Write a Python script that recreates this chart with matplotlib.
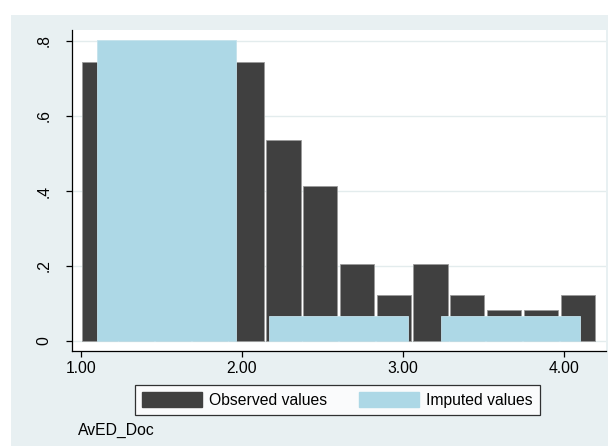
import matplotlib.pyplot as plt
from matplotlib.patches import Rectangle, Patch

plt.rcParams['font.family'] = ['Liberation Sans', 'DejaVu Sans']
plt.rcParams['font.size'] = 11.3

# observed values: 14 bins from 1.0 to 4.2 (density)
obs_start = 1.0
obs_width = 3.2 / 14
obs_density = [0.744, 0.33, 0.33, 0.33, 0.744, 0.536, 0.413,
               0.205, 0.123, 0.205, 0.123, 0.083, 0.083, 0.123]

# imputed values: 3 bins from 1.0 to 4.2 (density)
imp_start = 1.0
imp_width = 3.2 / 3
imp_density = [0.803, 0.067, 0.067]

xticks = [1, 2, 3, 4]
xticklabels = ['1.00', '2.00', '3.00', '4.00']
yticks = [0, 0.2, 0.4, 0.6, 0.8]
yticklabels = ['0', '.2', '.4', '.6', '.8']

W, H = 608, 446
fig = plt.figure(figsize=(W / 100, H / 100), dpi=100)
fig.patch.set_facecolor('white')
fig.patches.append(Rectangle((11 / W, 0), 1, 1 - 15 / H, transform=fig.transFigure,
                             facecolor='#e8f0f2', edgecolor='none', zorder=-10))

ax = fig.add_axes([72 / W, 1 - 351 / H, (606 - 72) / W, (351 - 30) / H])
ax.set_facecolor('white')

obs_x = [obs_start + (i + 0.5) * obs_width for i in range(len(obs_density))]
ax.bar(obs_x, obs_density, width=obs_width * 0.93, color='#404040',
       edgecolor='#9a9a9a', linewidth=0.6, zorder=2)
imp_x = [imp_start + (i + 0.5) * imp_width for i in range(len(imp_density))]
ax.bar(imp_x, imp_density, width=imp_width * 0.81, color='#add8e6',
       edgecolor='#c4e2ec', linewidth=0.6, zorder=3)

ax.set_xlim(0.944, 4.261)
ax.set_ylim(-0.0267, 0.8293)
ax.set_xticks(xticks)
ax.set_xticklabels(xticklabels)
ax.set_yticks(yticks)
ax.set_yticklabels(yticklabels, rotation=90, va='center')
ax.tick_params(axis='x', length=4, width=0.9, pad=3)
ax.tick_params(axis='y', length=4, width=0.9, pad=11)
ax.grid(axis='y', color='#e3eced', linewidth=1, zorder=0)
ax.set_axisbelow(True)
for s in ['top', 'right']:
    ax.spines[s].set_visible(False)
for s in ['left', 'bottom']:
    ax.spines[s].set_linewidth(0.9)

handles = [Patch(facecolor='#404040', edgecolor='#404040', label='Observed values'),
           Patch(facecolor='#add8e6', edgecolor='#add8e6', label='Imputed values')]
leg = fig.legend(handles=handles, loc='center', bbox_to_anchor=(337.5 / W, 1 - 400 / H),
                 ncol=2, frameon=True, fancybox=False, handlelength=3.8, handleheight=1.1,
                 handletextpad=0.5, columnspacing=2.0, borderpad=0.42, borderaxespad=0)
leg.get_frame().set_edgecolor('black')
leg.get_frame().set_linewidth(0.9)

fig.text(78 / W, 1 - 430 / H, 'AvED_Doc', ha='left', va='center')

fig.savefig('out.png', dpi=100)
